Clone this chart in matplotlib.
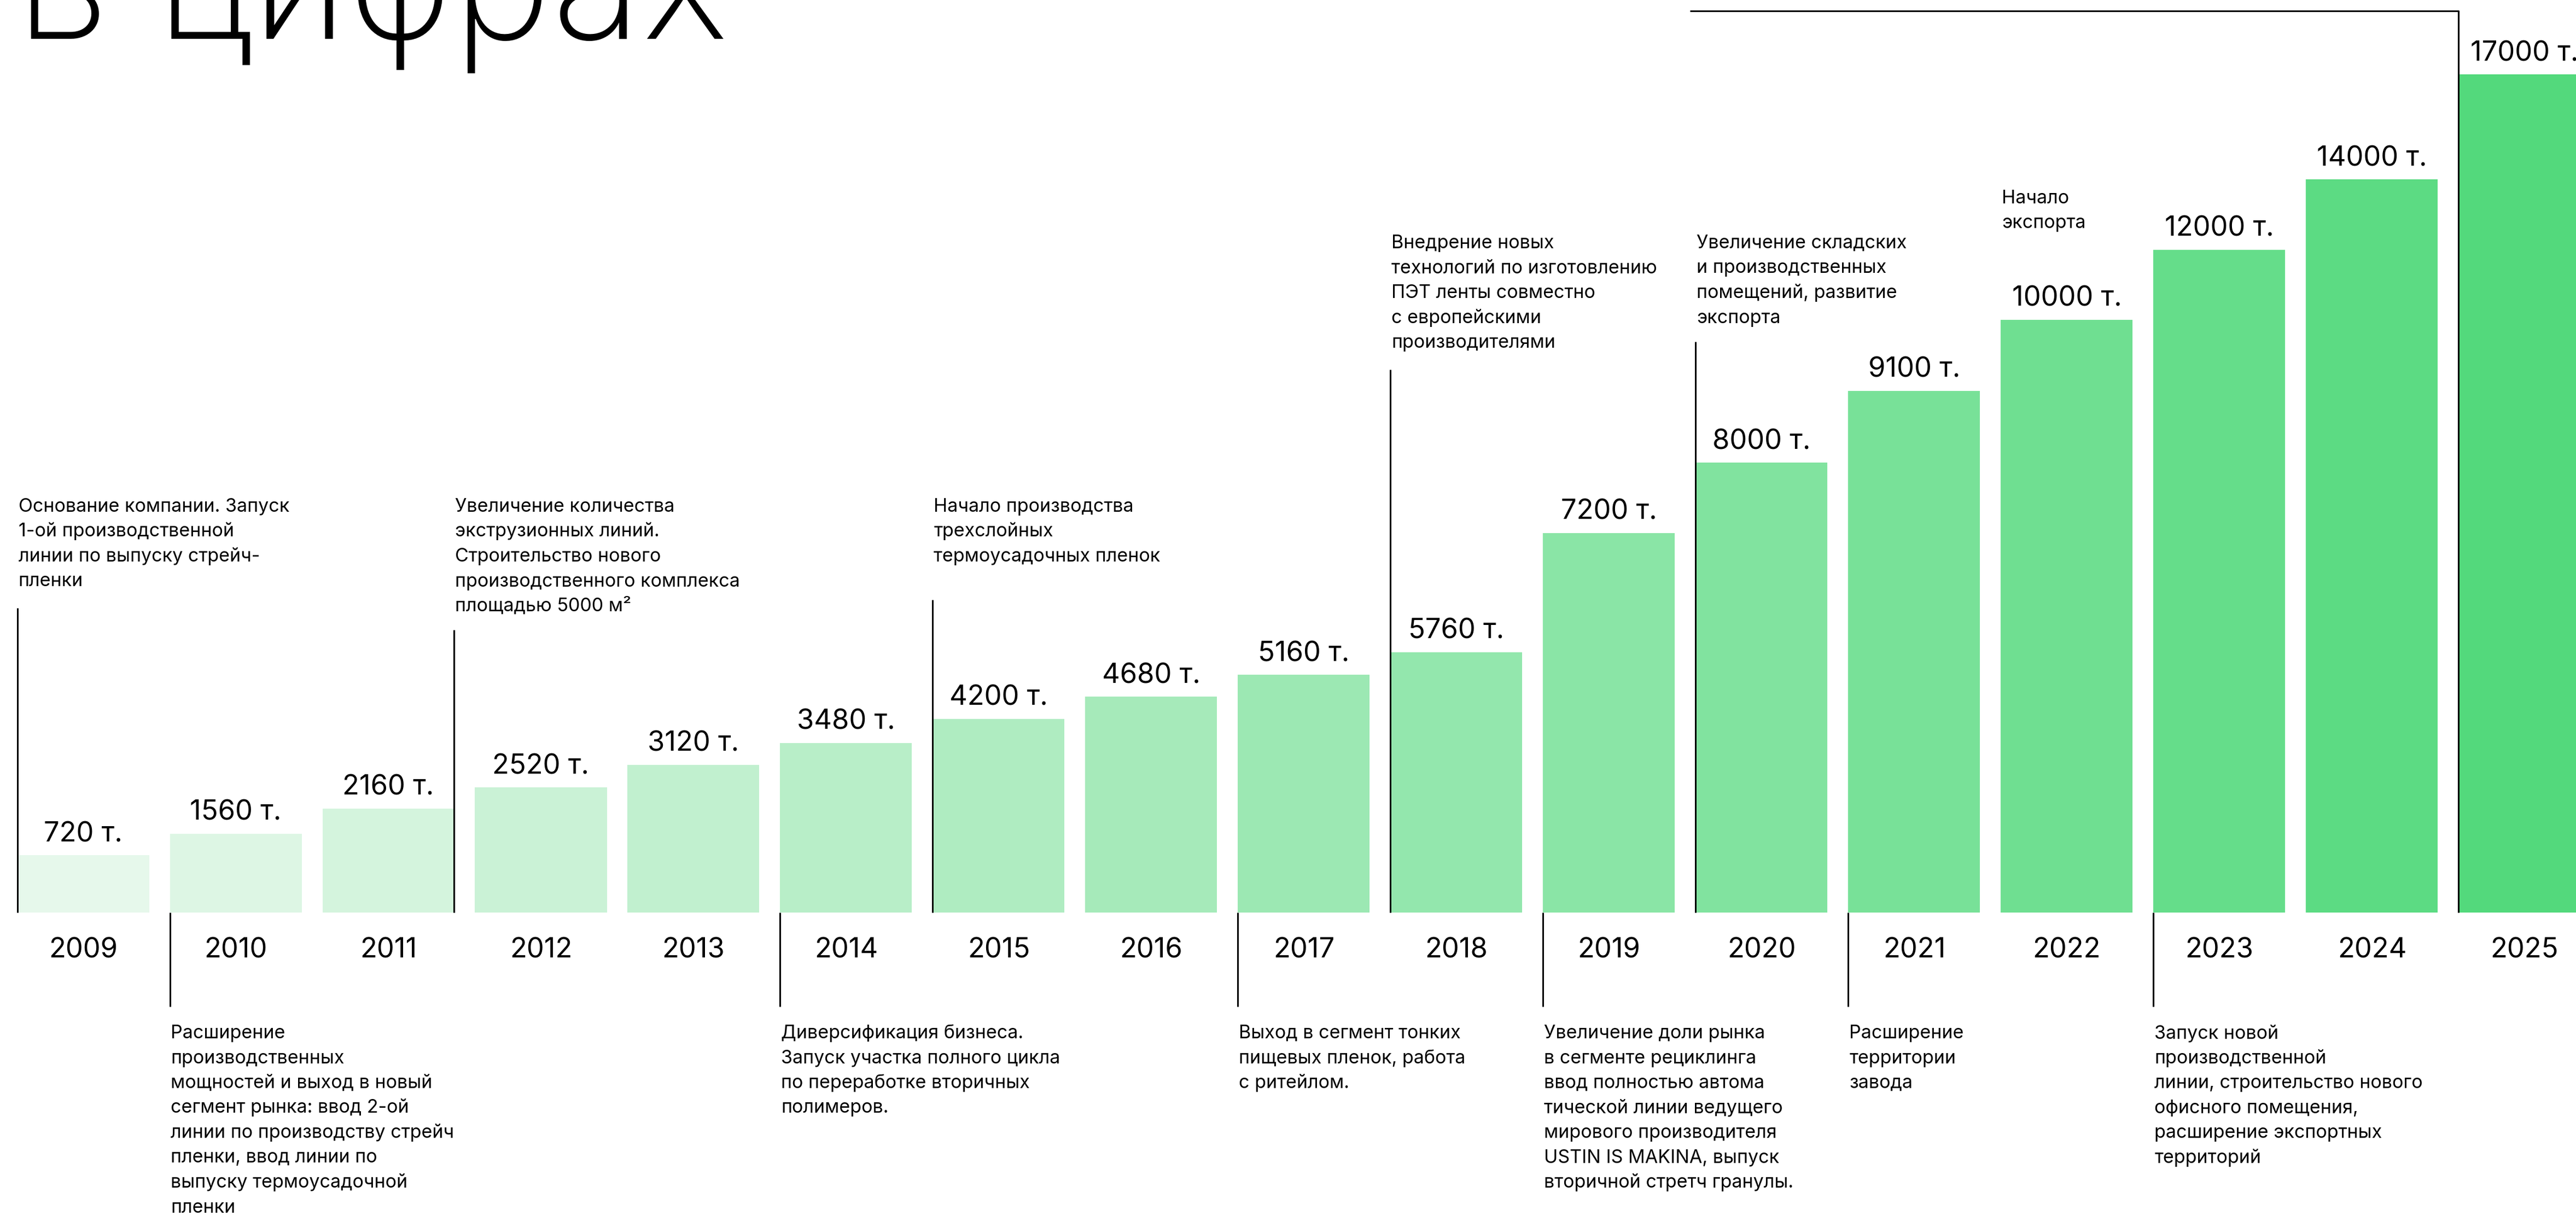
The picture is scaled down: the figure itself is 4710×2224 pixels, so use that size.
import matplotlib.pyplot as plt
from matplotlib.colors import to_rgb, to_hex

years = ['2009', '2010', '2011', '2012', '2013', '2014', '2015', '2016', '2017',
         '2018', '2019', '2020', '2021', '2022', '2023', '2024', '2025']
tonnes = [720, 1560, 2160, 2520, 3120, 3480, 4200, 4680, 5160,
          5760, 7200, 8000, 9100, 10000, 12000, 14000, 17000]
# bar heights as drawn in the infographic (not proportional to tonnes)
bar_height = [105, 144, 190, 229, 270, 310, 354, 395, 435,
              476, 694, 823, 954, 1084, 1212, 1341, 1533]

notes_above = {
    '2009': 'Основание компании. Запуск\n1-ой производственной\nлинии по выпуску стрейч-\nпленки',
    '2012': 'Увеличение количества\nэкструзионных линий.\nСтроительство нового\nпроизводственного комплекса\nплощадью 5000 м²',
    '2015': 'Начало производства\nтрехслойных\nтермоусадочных пленок',
    '2018': 'Внедрение новых\nтехнологий по изготовлению\nПЭТ ленты совместно\nс европейскими\nпроизводителями',
    '2020': 'Увеличение складских\nи производственных\nпомещений, развитие\nэкспорта',
    '2022': 'Начало\nэкспорта',
}
notes_below = {
    '2010': 'Расширение\nпроизводственных\nмощностей и выход в новый\nсегмент рынка: ввод 2-ой\nлинии по производству стрейч\nпленки, ввод линии по\nвыпуску термоусадочной\nпленки',
    '2014': 'Диверсификация бизнеса.\nЗапуск участка полного цикла\nпо переработке вторичных\nполимеров.',
    '2017': 'Выход в сегмент тонких\nпищевых пленок, работа\nс ритейлом.',
    '2019': 'Увеличение доли рынка\nв сегменте рециклинга\nввод полностью автома\nтической линии ведущего\nмирового производителя\nUSTIN IS MAKINA, выпуск\nвторичной стретч гранулы.',
    '2021': 'Расширение\nтерритории\nзавода',
    '2023': 'Запуск новой\nпроизводственной\nлинии, строительство нового\nофисного помещения,\nрасширение экспортных\nтерриторий',
}

# layout (picture units: 1 unit = 1 px vertically, 1 bar step horizontally)
W, H = 4710, 2224
STEP = 279
BASE = 1669
BW = 241 / STEP
FONT = ['Inter', 'DejaVu Sans']
text_base = {'2009': 733, '2012': 733, '2015': 733, '2018': 1215, '2020': 1215, '2022': 1297}
line_top = {'2009': 557, '2012': 517, '2015': 572, '2018': 993, '2020': 1044}
PITCH = 45.5

plt.rcParams['font.family'] = FONT
fig = plt.figure(figsize=(W / 100, H / 100), dpi=100)
ax = fig.add_axes([0, 0, 1, 1])
ax.set_xlim(-152 / STEP, -152 / STEP + W / STEP)
ax.set_ylim(-(H - BASE), BASE)
ax.axis('off')

c0, c1 = to_rgb('#E6F8EB'), to_rgb('#53D97C')
n = len(years)
colors = [to_hex([a + (b - a) * i / (n - 1) for a, b in zip(c0, c1)]) for i in range(n)]

xs = list(range(n))
rect = ax.bar(xs, bar_height, BW, color=colors, linewidth=0)
for rec, t in zip(rect, tonnes):
    ax.text(rec.get_x() + rec.get_width() / 2, rec.get_height() + 25, f'{t} т.',
            ha='center', va='baseline', fontsize=36.5)
for i, y in enumerate(years):
    ax.text(i, -83, y, ha='center', va='baseline', fontsize=36.5)


def left_edge(year):
    i = years.index(year)
    if year == '2012':
        return i - 1 + BW / 2
    return i - BW / 2


def put_lines(x, y0, txt):
    for k, line in enumerate(txt.split('\n')):
        ax.text(x + 2 / STEP, y0 - k * PITCH, line, ha='left', va='baseline', fontsize=24.5)


for year, txt in notes_above.items():
    x = left_edge(year)
    put_lines(x, text_base[year], txt)
    if year in line_top:
        ax.plot([x, x], [0, line_top[year]], color='black', lw=2.2, solid_capstyle='butt')

for year, txt in notes_below.items():
    x = left_edge(year)
    put_lines(x, -230, txt)
    ax.plot([x, x], [0, -172], color='black', lw=2.2, solid_capstyle='butt')

# bracket over 2025
x25 = left_edge('2025')
ax.plot([x25, x25, -152 / STEP + 3090 / STEP], [0, BASE - 20, BASE - 20],
        color='black', lw=2.2, solid_capstyle='butt')

# big heading, cut by the top edge as in the original layout
ax.text(-152 / STEP + 29 / STEP, BASE - 71, 'в цифрах', ha='left', va='baseline',
        fontsize=221, fontweight='light')

fig.savefig('out.png', dpi=100, facecolor='white')
